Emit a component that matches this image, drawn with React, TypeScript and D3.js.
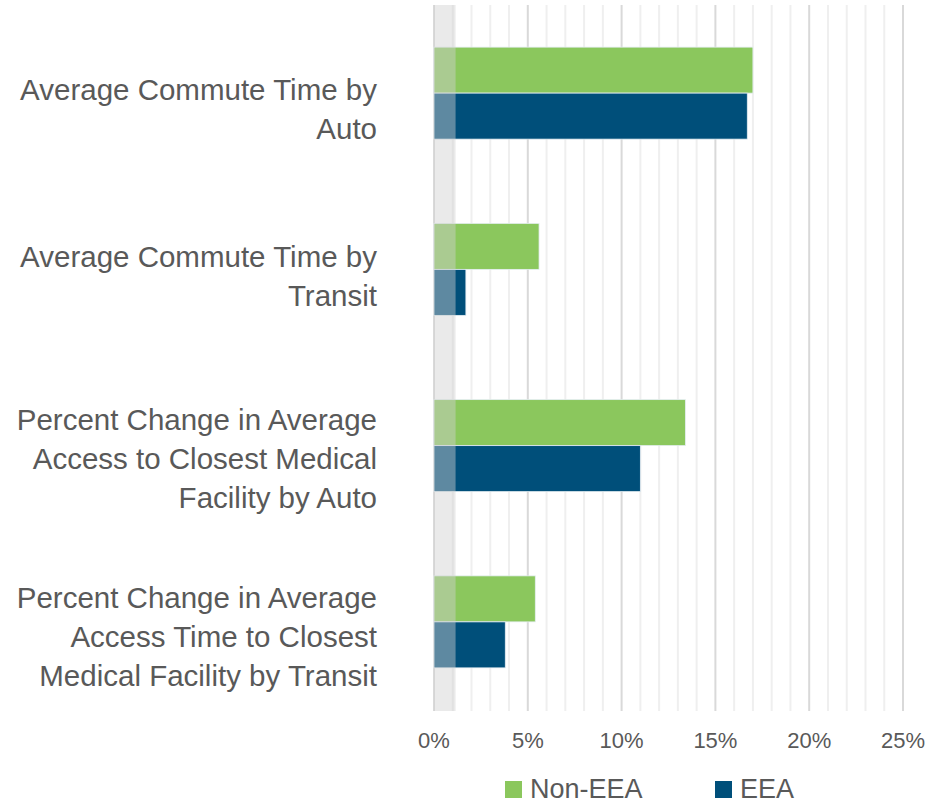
import React from "react";
import * as d3 from "d3";

const categories = [
  ["Average Commute Time by", "Auto"],
  ["Average Commute Time by", "Transit"],
  ["Percent Change in Average", "Access to Closest Medical", "Facility by Auto"],
  ["Percent Change in Average", "Access Time to Closest", "Medical Facility by Transit"],
];
const seriesNames = ["Non-EEA", "EEA"];
const seriesColors = ["#8bc75d", "#004f7a"];
const nonEEA = [17.0, 5.6, 13.4, 5.4];
const eea = [16.7, 1.7, 11.0, 3.8];
const xTicks = [0, 5, 10, 15, 20, 25];
const bandEnd = 1.15;

export default function App() {
  const W = 929, H = 802;
  const x = d3.scaleLinear().domain([0, 25]).range([434, 903]);
  const y = d3.scaleBand<number>().domain(d3.range(categories.length)).range([5, 710]);
  const inner = d3.scaleBand<number>().domain([0, 1]).range([0, 92]);
  const series = [nonEEA, eea];
  const minor = d3.range(0, 26, 1);
  const textColor = "#595959";
  const font = "'Liberation Sans', Arial, sans-serif";
  const labelShift = [16, 6, 13, 14];
  const lh = 39;
  const capH = 21.5;
  return (
    <div style={{ position: "absolute", left: 0, top: 0 }}>
      <svg width={W} height={H} style={{ display: "block", fontFamily: font }}>
        <rect width={W} height={H} fill="#fff" />
        {minor.map((t) => (
          <line key={t} x1={x(t)} x2={x(t)} y1={5} y2={711}
            stroke={t % 5 === 0 ? "#d9d9d9" : "#efefef"} strokeWidth={2} />
        ))}
        {categories.map((_, i) => {
          const y0 = (y(i) as number) + (y.bandwidth() - 92) / 2;
          return series.map((s, j) => (
            <rect key={`${i}-${j}`} x={x(0)} y={y0 + (inner(j) as number)} width={x(s[i]) - x(0)}
              height={inner.bandwidth()} fill={seriesColors[j]} stroke="#e6eef3" strokeWidth={0.8} />
          ));
        })}
        <rect x={x(0)} y={5} width={x(bandEnd) - x(0)} height={706} fill="#d0d0d0" opacity={0.45} />
        {categories.map((lines, i) => {
          const cy = (y(i) as number) + y.bandwidth() / 2 + labelShift[i];
          const blockH = (lines.length - 1) * lh + capH;
          const firstBase = cy - blockH / 2 + capH;
          return (
            <text key={i} textAnchor="end" fontSize={29.5} fill={textColor}>
              {lines.map((l, k) => (
                <tspan key={k} x={377} y={firstBase + k * lh}>{l}</tspan>
              ))}
            </text>
          );
        })}
        {xTicks.map((t) => (
          <text key={t} x={x(t)} y={748} textAnchor="middle" fontSize={22} fill={textColor}>
            {t}%
          </text>
        ))}
        {seriesNames.map((n, j) => {
          const lx = j === 0 ? 505 : 715;
          return (
            <g key={n}>
              <rect x={lx} y={781} width={17} height={17} fill={seriesColors[j]} />
              <text x={lx + 25} y={797.5} fontSize={27} fill={textColor}>{n}</text>
            </g>
          );
        })}
      </svg>
    </div>
  );
}
